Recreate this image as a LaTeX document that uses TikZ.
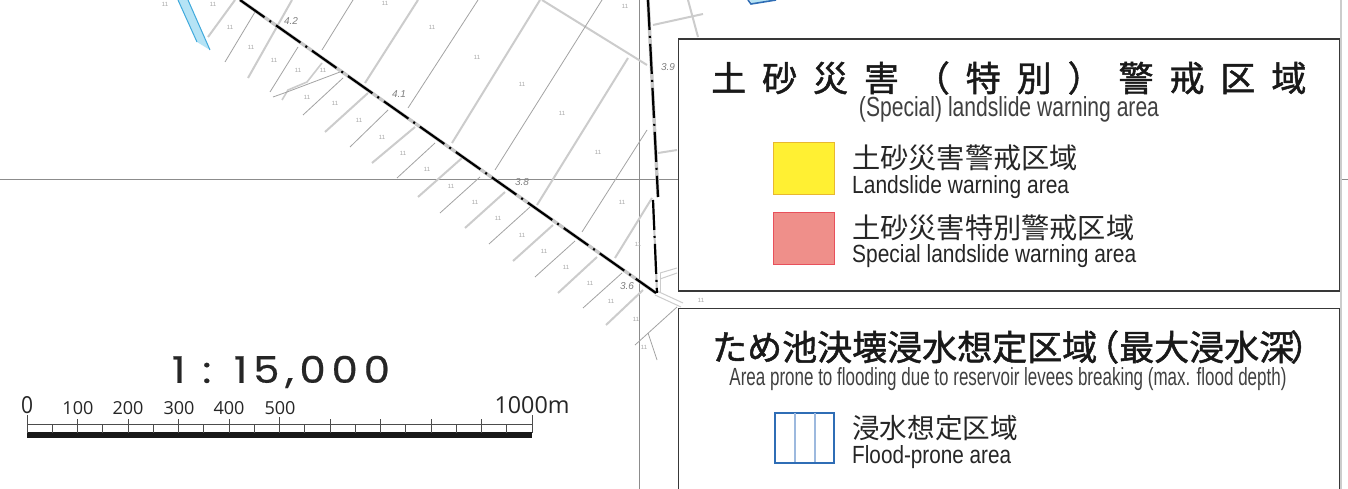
\documentclass[tikz,border=0pt]{standalone}
\usepackage{fontspec}
\setmainfont{Liberation Sans}
\newfontfamily\jp{Noto Sans CJK JP}
\newfontfamily\jpmed[FakeBold=1.4]{Noto Sans CJK JP}
\newfontfamily\jptitle[LetterSpace=45.5,FakeBold=1.4]{Noto Sans CJK JP}
\newfontfamily\pop[LetterSpace=14,FakeBold=0.5]{Poppins}
\newfontfamily\lat{Open Sans}
\definecolor{ylw}{HTML}{FFF033}
\definecolor{ylwb}{HTML}{E8B830}
\definecolor{pnk}{HTML}{EF8F8A}
\definecolor{pnkb}{HTML}{E8505B}
\definecolor{blb}{HTML}{2F6DB5}
\definecolor{bll}{HTML}{9DB9DE}
\definecolor{wat}{HTML}{B5E3F5}
\definecolor{watb}{HTML}{3FA9DC}
\tikzset{
  thickroad/.style={draw=black!20,line width=2pt},
  thinroad/.style={draw=black!36,line width=.8pt},
  frame/.style={draw=black!78,line width=1.9pt,fill=white},
  rule/.style={draw=black!45,line width=.8pt},
  mainbase/.style={draw=black!22,line width=3.4pt},
  maindash/.style={draw=black,line width=2.2pt,dash pattern=on 30pt off 6pt on 2pt off 6pt},
  elev/.style={text=black!50,font=\itshape\fontsize{10}{10}\selectfont},
  ditto/.style={text=black!35,font=\fontsize{6}{6}\selectfont,inner sep=0pt},
  jptxt/.style={anchor=west,inner sep=0pt,text=black!85},
  entxt/.style={anchor=center,inner sep=0pt,text=black!75},
  scl/.style={anchor=center,inner sep=0pt,text=black!85}
}
\newcommand{\fitbox}[3]{\resizebox{#1pt}{#2pt}{#3}}
\begin{document}
\begin{tikzpicture}[x=1pt,y=-1pt]
\useasboundingbox (0,0) rectangle (1348,489);
\fill[white] (0,0) rectangle (1348,489);
% frame rules
\draw[rule] (0,179) -- (1348,179);
\draw[rule] (639,0) -- (639,489);
\draw[rule,draw=black!20,line width=1.2pt] (1341,0) -- (1341,489);
% water
\fill[wat] (178,0) -- (197,42) -- (210,50) -- (188,0) -- cycle;
\draw[watb,line width=1pt] (178,0) -- (197,42);
\draw[watb,line width=1pt] (188,0) -- (210,50);
% parcels
\foreach \xa/\ya/\xb/\yb in {235/0/208/37,292/0/248/78,418/0/365/83,540/0/452/143,462/158/418/197,505/192/465/228,553/225/513/261,597/257/558/293,643/290/606/325,368/93/325/132,415/127/372/163,628/58/537/205,652/198/615/258,542/0/647/65,653/25/703/14,688/0/698/37,658/153/677/150}
  \draw[thickroad] (\xa,\ya) -- (\xb,\yb);
\foreach \xa/\ya/\xb/\yb in {255/12/225/62,298/47/270/92,353/0/322/50,343/78/303/115,388/110/350/147,435/143/397/178,478/0/408/108,602/0/495/170,647/130/582/232,480/177/440/213,530/207/489/244,575/241/535/277,622/273/583/308,677/307/635/345,648/333/657/360}
  \draw[thinroad] (\xa,\ya) -- (\xb,\yb);
\draw[thickroad,line width=1.6pt] (322,63) -- (307,82) -- (288,90) -- (282,100);
\draw[thinroad] (340,72) -- (287,92) -- (273,97);
\draw[thickroad,line width=1pt] (660,273) -- (677,268);
\draw[thickroad,line width=1pt] (660,279) -- (677,273);
\draw[thickroad,line width=1pt] (660,273) -- (660,292);
\draw[thickroad,line width=1pt] (657,291) -- (683,303);
\draw[thickroad,line width=1pt] (655,295) -- (681,307);
% main boundary
\coordinate (ds) at (240,0);
\coordinate (de) at (656,293);
\coordinate (va) at (648,0);
\coordinate (vb) at (658,197);
\coordinate (vc) at (653,200);
\coordinate (vd) at (657,293);
\draw[mainbase] (ds) -- (de);
\draw[mainbase] (va) -- (vb);
\draw[mainbase,line width=2pt] (vc) -- (vd);
\draw[maindash] (ds) -- (de);
\draw[maindash] (va) -- (vb);
\draw[maindash] (vc) -- (vd);
% elevations
\node[elev] (e42) at (291,21) {4.2};
\node[elev] (e41) at (399,94) {4.1};
\node[elev] (e39) at (668,67) {3.9};
\node[elev] (e38) at (522,182) {3.8};
\node[elev] (e36) at (627,286) {3.6};
% ditto marks
\foreach \p [count=\i] in {(165,4),(213,4),(230,27),(251,47),(274,60),(298,70),(323,70),(307,97),(335,103),(359,120),(382,137),(403,153),(427,169),(385,3),(432,27),
(477,57),(522,84),(562,113),(598,152),(625,6),(451,186),(475,202),(498,218),(522,235),(544,251),(566,267),(590,283),(611,301),(622,202),(638,244),(636,319),(644,347),(701,300)}
  \node[ditto] (m\i) at \p {11};
% scale
\node[scl] (scaletxt) at (281,372) {\fitbox{218}{27}{\pop\fontsize{30}{30}\selectfont 1 : 15,000}};
\node[scl] (s0) at (27,405) {\fitbox{12}{17}{\lat 0}};
\foreach \v/\x in {100/78,200/128,300/179,400/229,500/280}
  \node[scl] (s\v) at (\x,408) {\fitbox{31}{13}{\lat\v}};
\node[scl] (s1000) at (532,405) {\fitbox{75}{17}{\lat 1000m}};
\fill[black!90] (27,432) rectangle (532,438);
\draw[black!70,line width=.7pt] (27,424) -- (532,424);
\foreach \k in {0,...,20}{
  \pgfmathsetmacro{\xx}{27+\k*25.25}
  \pgfmathsetmacro{\yy}{ifthenelse(\k==0||\k==20,415,ifthenelse(\k==10,417,ifthenelse(mod(\k,2)==0,419,424)))}
  \draw[black!70,line width=.7pt] (\xx,\yy) -- (\xx,433);
}
% box 1
\node[frame,minimum width=661pt,minimum height=252pt,anchor=north west,inner sep=0pt] (box1) at (677.5,38) {};
\node[inner sep=0pt,anchor=west,text=black!90] (t1) at (711,78) {\jptitle\fontsize{35}{35}\selectfont 土砂災害（特別）警戒区域};
\node[entxt] (t1e) at (1009,109) {\fitbox{300}{20}{(Special) landslide warning area}};
\node[draw=ylwb,fill=ylw,line width=1pt,minimum width=61pt,minimum height=52pt,inner sep=0pt,anchor=north west] (yel) at (773,142) {};
\node[draw=pnkb,fill=pnk,line width=1pt,minimum width=61pt,minimum height=52pt,inner sep=0pt,anchor=north west] (red) at (773,212) {};
\node[jptxt] (l1) at (852,158) {\jp\fontsize{28.2}{28.2}\selectfont 土砂災害警戒区域};
\node[jptxt] (l1e) at (852,187) {\fitbox{217}{18}{Landslide warning area}};
\node[jptxt] (l2) at (852,228) {\jp\fontsize{28.2}{28.2}\selectfont 土砂災害特別警戒区域};
\node[jptxt] (l2e) at (852,256) {\fitbox{284}{18}{Special landslide warning area}};
% box 2
\node[frame,minimum width=661pt,minimum height=190pt,anchor=north west,inner sep=0pt] (box2) at (677.5,307.5) {};
\node[inner sep=0pt,anchor=west,text=black!90] (t2) at (712,347) {\jpmed\fontsize{35}{35}\selectfont ため池決壊浸水想定区域\hspace{-13pt}（最大浸水深\hspace{-4pt}）};
\node[entxt] (t2e) at (1008,379) {\fitbox{557}{18}{Area prone to flooding due to reservoir levees breaking (max. flood depth)}};
\node[draw=blb,line width=2.2pt,minimum width=59pt,minimum height=50pt,inner sep=0pt,anchor=north west] (blu) at (774,412) {};
\draw[bll,line width=1.2pt] (795,413) -- (795,462);
\draw[bll,line width=1.2pt] (815,413) -- (815,462);
\node[jptxt] (l3) at (852,428) {\jp\fontsize{27.6}{27.6}\selectfont 浸水想定区域};
\node[jptxt] (l3e) at (852,457) {\fitbox{159}{18}{Flood-prone area}};
% top fragment
\fill[wat] (750,0) -- (752,4) -- (775,0) -- cycle;
\draw[blb,line width=1.6pt] (748,0) -- (751,4) -- (776,0);
\end{tikzpicture}
\end{document}
